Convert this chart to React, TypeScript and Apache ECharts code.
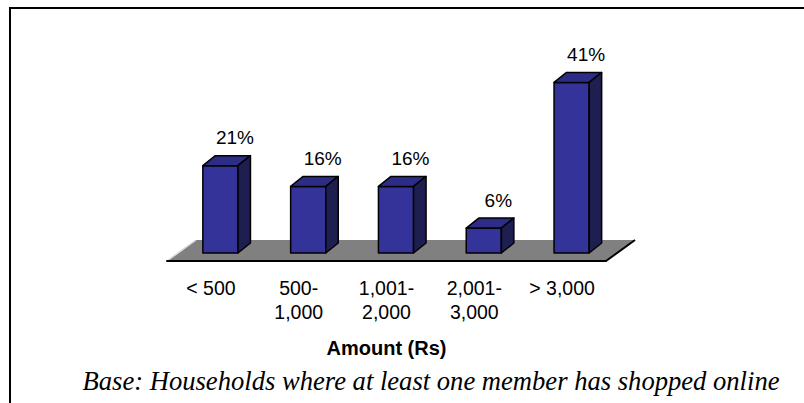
import React, { useEffect, useRef } from "react";
import * as echarts from "echarts";

const categories = ["< 500", "500-\n1,000", "1,001-\n2,000", "2,001-\n3,000", "> 3,000"];
const values = [21, 16, 16, 6, 41];
const valueLabels = ["21%", "16%", "16%", "6%", "41%"];
const axisName = "Amount (Rs)";
const caption = "Base: Households where at least one member has shopped online";

const SANS = "'Liberation Sans', Arial, sans-serif";
const SERIF = "'Liberation Serif', 'Times New Roman', serif";

export default function App() {
  const ref = useRef<HTMLDivElement>(null);
  useEffect(() => {
    document.body.style.margin = "0";
    const chart = echarts.init(ref.current!, null, { renderer: "svg" });
    const FRONT_SHIFT = 9.5;
    const DEPTH_X = 12.5;
    const DEPTH_Y = -10;
    const FLOOR_INSET = 8;
    const FLOOR_DX = 29;
    const FLOOR_DY = -21;

    const floorItem = (params: any, api: any) => {
      const first = api.coord([0, 0]);
      const last = api.coord([categories.length - 1, 0]);
      const bw = api.size([1, 0])[0];
      const x0 = first[0] - bw / 2;
      const x1 = last[0] + bw / 2;
      const y = first[1];
      return {
        type: "group",
        children: [
          {
            type: "polygon",
            shape: { points: [[x0, y], [x1, y], [x1 + FLOOR_DX, y + FLOOR_DY], [x0 + FLOOR_DX, y + FLOOR_DY]] },
            style: { fill: "#808080" },
          },
          {
            type: "line",
            shape: { x1: x1, y1: y, x2: x1 + FLOOR_DX, y2: y + FLOOR_DY },
            style: { stroke: "#000", lineWidth: 2 },
          },
          {
            type: "line",
            shape: { x1: x0, y1: y, x2: x0 + FLOOR_DX, y2: y + FLOOR_DY },
            style: { stroke: "#d8d8d8", lineWidth: 1.5 },
          },
        ],
      };
    };

    const barItem = (params: any, api: any) => {
      const i = api.value(0);
      const v = api.value(1);
      const base = api.coord([i, 0]);
      const top = api.coord([i, v]);
      const bw = api.size([1, 0])[0];
      const w = bw * 0.4;
      const cx = base[0] + FRONT_SHIFT;
      const xl = cx - w / 2;
      const xr = cx + w / 2;
      const yb = base[1] - FLOOR_INSET;
      const yt = top[1] - FLOOR_INSET;
      const edge = { stroke: "#000", lineWidth: 1.5, lineJoin: "round" };
      return {
        type: "group",
        children: [
          {
            type: "polygon",
            shape: { points: [[xl, yt], [xr, yt], [xr, yb], [xl, yb]] },
            style: { fill: "#333399", ...edge },
          },
          {
            type: "polygon",
            shape: { points: [[xl, yt], [xr, yt], [xr + DEPTH_X, yt + DEPTH_Y], [xl + DEPTH_X, yt + DEPTH_Y]] },
            style: { fill: "#2d2d87", ...edge },
          },
          {
            type: "polygon",
            shape: { points: [[xr, yt], [xr + DEPTH_X, yt + DEPTH_Y], [xr + DEPTH_X, yb + DEPTH_Y], [xr, yb]] },
            style: { fill: "#1e1e50", ...edge },
          },
          {
            type: "text",
            style: {
              text: valueLabels[i],
              x: cx + DEPTH_X + 2,
              y: yt - 28,
              align: "center",
              verticalAlign: "middle",
              textAlign: "center",
              textVerticalAlign: "middle",
              fontSize: 19,
              fontFamily: SANS,
              fill: "#000",
            },
          },
        ],
      };
    };

    chart.setOption({
      animation: false,
      grid: { left: 167, right: 198, top: 53, bottom: 142 },
      xAxis: {
        type: "category",
        data: categories,
        z: 10,
        axisLine: { lineStyle: { color: "#000", width: 2 } },
        axisTick: { length: 5, lineStyle: { color: "#000", width: 1.5 } },
        axisLabel: {
          margin: 15,
          color: "#000",
          fontSize: 19.5,
          fontFamily: SANS,
          lineHeight: 24,
          interval: 0,
        },
        name: axisName,
        nameLocation: "middle",
        nameGap: 87,
        nameTextStyle: {
          fontWeight: "bold",
          fontSize: 20,
          color: "#000",
          fontFamily: SANS,
          verticalAlign: "middle",
        },
      },
      yAxis: { type: "value", min: 0, max: 50, show: false },
      series: [
        { type: "custom", data: [[0, 0]], z: 1, silent: true, renderItem: floorItem },
        { type: "custom", data: values.map((v, i) => [i, v]), z: 2, renderItem: barItem },
      ],
      graphic: [
        {
          type: "polyline",
          shape: { points: [[10, 403], [10, 8], [804, 8]] },
          style: { stroke: "#000", lineWidth: 2, fill: "none" },
        },
        {
          type: "text",
          x: 431,
          y: 381,
          style: {
            text: caption,
            align: "center",
            verticalAlign: "middle",
            textAlign: "center",
            textVerticalAlign: "middle",
            fontSize: 26.6,
            fontStyle: "italic",
            fontFamily: SERIF,
            fill: "#000",
          },
        },
      ],
    });
    return () => chart.dispose();
  }, []);
  return <div ref={ref} style={{ position: "absolute", left: 0, top: 0, width: 804, height: 403 }} />;
}
